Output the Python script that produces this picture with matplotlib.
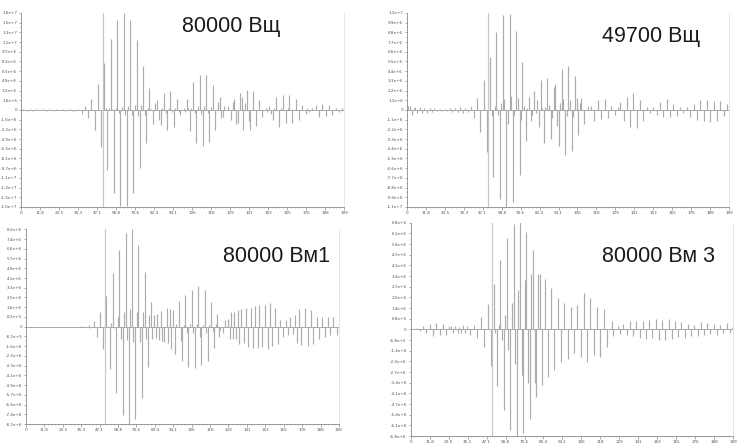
import numpy as np
import matplotlib
matplotlib.use("Agg")
import matplotlib.pyplot as plt
from matplotlib.ticker import FixedLocator, AutoMinorLocator

# stem positions (x) and amplitudes (in units of 1e6)
p1_x = [1.5, 3.5, 5.5, 7.5, 9.5, 11.5, 13.5, 15.5, 17.5, 19.5, 21.5, 23.5, 25.5, 27.5, 29.5, 31.5,
        33.5, 35.5, 37.5, 39.5, 41.5, 43.5, 45.5, 47.5, 49.5, 51.5, 52.5, 53.5, 54.5, 55.5, 56.5,
        57.5, 58.5, 59.5, 60.5, 61.5, 62.5, 63.5, 64.5, 65.5, 66.5, 67.5, 68.5, 69.5, 70.5, 71.5,
        72.5, 73.5, 74.5, 75.5, 76.5, 77.5, 78.5, 79.5, 80.5, 81.5, 83.0, 84.4, 85.6, 86.4, 87.5,
        88.5, 89.5, 90.4, 91.5, 92.4, 93.5, 94.5, 95.5, 96.6, 97.5, 98.6, 100.7, 101.6, 102.8,
        103.5, 104.4, 105.5, 106.5, 107.5, 108.6, 109.5, 110.6, 111.5, 112.5, 113.5, 114.6, 115.5,
        116.4, 117.5, 118.7, 120.3, 121.8, 123.0, 123.9, 125.1, 125.9, 128.0, 130.1, 131.3, 132.1,
        133.4, 134.6, 135.7, 136.7, 137.7, 138.8, 140.0, 141.0, 141.6, 143.7, 145.6, 147.6, 149.5,
        151.4, 152.4, 153.4, 154.5, 155.7, 156.8, 158.0, 159.9, 161.0, 161.9, 164.0, 165.0, 166.0,
        167.9, 170.0, 172.0, 174.1, 176.2, 177.2, 178.3, 180.3, 182.4, 184.4, 186.5, 188.6, 190.6,
        192.7, 194.8, 196.8, 198.9]
p1_v = [0.1, -0.1, 0.08, -0.1, 0.1, -0.08, 0.1, -0.1, 0.08, -0.1, 0.1, -0.08, 0.1, -0.1, 0.08, -0.1,
        -0.1, 0.2, -0.6, 0.7, -1.4, 1.9, -3.3, 4.4, -6.2, 7.9, 0.3, -10.0, 0.3, 11.8, 0.2,
        -13.8, 0.4, 15.0, -0.5, -16.0, 0.5, 16.2, -0.8, -16.1, 0.6, 15.0, -0.8, -13.8, 0.8, 11.7,
        -1.0, -9.7, 0.8, 7.4, -0.8, -5.6, 0.3, 3.6, 0.2, -2.3, 1.2, 1.6, -1.6, -2.5, 0.4,
        2.8, -0.5, -3.3, 0.4, 3.1, -0.4, -2.8, 0.3, 1.8, -0.3, -0.8, 0.3, -0.3, 1.9,
        0.3, -3.6, 0.4, 4.6, -0.5, -5.6, 0.6, 5.8, -0.6, -6.1, 0.6, 5.8, -0.5,
        -5.3, 0.5, 4.2, -3.3, 1.4, 2.2, -1.4, -1.1, 0.7, 0.7, -1.6, 1.4, 1.8,
        -2.3, -2.1, 2.8, 2.1, -3.4, 1.1, 3.3, -1.9, -3.4, 3.1, -2.7, 1.7, -1.1,
        0.4, -0.3, 0.7, -0.6, -1.6, 0.3, 2.1, -2.8, 0.4, 2.5, -2.2, 0.3, 2.5,
        -2.2, 1.8, -1.6, 0.8, -0.6, 0.3, -0.3, 0.3, 0.8, -1.1, 1.0, -1.0, 0.8,
        -0.8, 0.4, -0.4, 0.3]

p2_x = [0.8, 2.0, 3.0, 4.2, 5.2, 6.2, 7.8, 9.3, 10.8, 12.4, 14.0, 15.5, 17.0, 18.6, 20.2, 21.8,
        23.4, 25.0, 26.6, 28.2, 29.8, 31.4, 33.0, 34.6, 36.2, 37.8, 39.5, 41.5, 43.6, 45.5, 47.6,
        49.5, 51.5, 52.5, 53.4, 54.5, 55.5, 56.5, 57.8, 58.6, 59.6, 60.5, 61.5, 62.6, 63.8, 64.7,
        65.7, 66.6, 67.7, 68.7, 69.9, 70.8, 71.7, 72.8, 73.8, 74.8, 75.9, 76.9, 77.9, 79.0, 79.9,
        80.8, 81.9, 83.0, 84.0, 85.0, 86.0, 87.1, 88.1, 89.2, 90.1, 91.1, 92.1, 93.1, 94.2, 95.1,
        96.1, 97.2, 98.3, 99.2, 100.2, 101.2, 102.3, 103.2, 104.2, 105.4, 106.4, 107.2, 108.1,
        110.2, 112.3, 114.3, 116.4, 118.5, 120.6, 122.7, 124.7, 126.8, 128.9, 131.0, 132.6, 134.7,
        136.8, 138.5, 140.5, 142.6, 144.7, 146.8, 148.9, 150.9, 153.0, 155.1, 157.2, 159.3, 161.3,
        163.4, 165.5, 167.6, 169.6, 171.7, 173.8, 175.9, 178.0, 180.0, 182.1, 184.2, 186.3, 188.4,
        190.4, 192.5, 194.6, 196.7, 198.8]
p2_v = [0.4, 0.4, -0.6, 0.2, 0.3, -0.3, 0.35, -0.3, 0.25, -0.3, 0.2, -0.2, 0.2, -0.15, 0.15, -0.15,
        0.15, -0.15, 0.2, -0.2, 0.25, -0.25, 0.3, -0.3, 0.2, -0.2, 0.45, -0.95, 1.4, -2.45, 3.4,
        -4.8, 6.0, -0.7, -7.6, 0.4, 8.8, -0.6, -10.1, 0.75, 10.75, 1.2, -11.1, -1.6, 10.9, 1.6,
        -10.4, -0.6, 8.9, 1.3, -7.4, -1.1, 5.4, 0.4, -3.5, 0.2, 1.5, -1.3, -0.6, 2.1, -0.4,
        1.1, -1.9, 3.4, 0.2, -3.8, 0.3, 3.6, 0.6, -3.3, -0.9, 2.6, 2.9, -1.8, -4.1, 0.75,
        4.6, 1.2, -5.1, -0.7, 5.0, 1.1, -4.6, -0.8, 3.85, 1.3, -2.8, 0.8, 1.3,
        -1.6, 0.45, 0.45, -1.2, 1.1, -1.05, 1.2, -0.95, 0.45, -0.55, 0.3, 0.95, -1.2,
        1.5, -1.9, 1.9, -2.0, 1.1, -1.2, 0.3, -0.3, 0.3, -0.55, 0.95, -0.75, 1.2,
        -0.85, 0.7, -0.7, 0.3, -0.3, 0.3, -0.75, 0.7, -1.1, 1.1, -1.2, 1.1, -1.4,
        1.05, -1.2, 1.05, -0.7, 0.7]

p3_x = [35.0, 38.0, 40.0, 41.2, 43.2, 45.4, 47.1, 49.2, 51.4, 53.5, 54.5, 55.4, 56.5, 57.6, 58.6,
        59.5, 60.6, 61.7, 62.7, 63.6, 64.6, 65.7, 66.7, 67.6, 68.7, 69.8, 70.8, 71.7, 72.8, 73.9,
        74.9, 75.8, 76.9, 77.9, 78.8, 79.8, 80.8, 81.8, 82.8, 83.9, 85.0, 86.1, 87.1, 88.2, 89.9,
        91.0, 92.0, 92.9, 94.0, 95.0, 96.1, 97.8, 98.9, 99.7, 100.8, 101.9, 103.0, 103.8, 104.9,
        106.0, 107.0, 108.1, 109.0, 110.0, 111.1, 112.0, 113.0, 114.1, 115.2, 116.0, 117.1, 118.2,
        119.3, 120.1, 121.2, 122.2, 123.3, 124.0, 125.7, 127.4, 128.9, 130.2, 131.0, 132.3, 133.2,
        134.5, 135.3, 136.4, 137.5, 139.0, 140.3, 141.8, 143.5, 145.0, 146.5, 148.2, 149.2, 150.7,
        152.5, 154.6, 155.7, 157.2, 159.3, 161.0, 162.1, 164.2, 166.4, 167.5, 168.7, 170.7, 171.7,
        173.2, 174.5, 176.0, 178.2, 180.3, 182.0, 183.5, 185.7, 187.1, 189.3, 191.0, 192.7, 194.2,
        196.4, 198.5]
p3_v = [0.05, -0.05, 0.1, -0.15, 0.5, -0.85, 1.25, -1.9, 2.6, -3.6, 0.3, 4.5, -0.1, -5.6, 0.8,
        6.5, -1.0, -7.4, 1.2, 7.9, -1.1, -8.2, 1.5, 8.2, -1.3, -7.8, 1.2, 6.9, -1.3, -6.0,
        1.2, 4.6, -1.0, -3.4, 1.0, 2.05, -1.0, 1.0, -0.95, 1.1, -1.1, 1.3, -1.2, -1.3, 1.6,
        -1.35, 1.5, -1.9, 1.4, -2.3, 0.2, 2.2, -1.2, -2.9, 0.15, 2.7, -0.55, -3.4, 0.2,
        3.1, -0.55, -3.5, 0.2, 3.45, -0.85, -3.2, 0.1, 3.1, -0.5, -2.9, 0.1, 2.05,
        -0.4, -1.8, 0.2, 1.1, -0.9, -0.3, -0.5, 0.6, 0.65, -1.0, 1.25, -1.05, 1.25,
        -1.0, 1.4, -1.45, 1.45, -1.4, 1.6, -1.7, 1.6, -1.8, 1.75, -1.8, 1.8, -1.7,
        1.8, -1.9, 2.0, -1.6, 1.6, -1.45, 0.6, -0.85, 0.55, -0.7, 0.85, -0.6, 1.0,
        -1.35, 1.45, -1.55, 1.6, -1.6, 1.4, -1.45, 0.85, -1.0, 0.85, -0.9, 0.85, -0.7,
        0.85, -0.7]

p4_x = [1.6, 3.7, 5.7, 7.7, 9.8, 11.8, 13.8, 15.9, 17.9, 19.9, 22.0, 24.0, 25.0, 26.4, 27.7,
        29.1, 30.1, 31.1, 32.6, 33.8, 35.2, 36.6, 39.3, 41.3, 43.7, 45.6, 47.8, 49.6, 51.5, 52.5,
        53.7, 54.5, 55.5, 56.6, 57.6, 58.6, 59.6, 60.6, 61.6, 62.7, 63.9, 64.7, 65.7, 66.7, 68.0,
        68.8, 69.8, 70.8, 71.8, 72.8, 73.9, 74.9, 75.9, 76.9, 77.9, 78.9, 80.0, 81.4, 83.0, 85.0,
        87.1, 89.1, 91.1, 93.2, 95.2, 97.3, 99.3, 101.3, 103.4, 105.4, 107.4, 109.5, 111.5, 113.5,
        115.6, 117.6, 119.6, 121.7, 124.7, 125.7, 128.8, 129.8, 131.8, 133.9, 135.9, 137.9, 139.9,
        141.9, 143.9, 145.9, 147.9, 149.9, 151.9, 153.9, 155.9, 157.9, 159.9, 161.9, 163.9, 165.9,
        167.9, 169.9, 171.9, 173.9, 175.9, 177.9, 179.9, 181.9, 183.9, 185.9, 187.9, 189.9, 191.9,
        193.9, 195.9, 197.9, 199.5]
p4_v = [0.05, 0.08, -0.1, 0.2, -0.25, 0.35, -0.45, 0.4, -0.35, 0.35, -0.35, 0.2, 0.2, -0.2, 0.2,
        -0.25, 0.15, -0.2, 0.25, -0.25, 0.2, -0.35, 0.3, -0.55, 0.77, -1.15, 1.6, -2.3, 2.9, -0.2,
        -3.6, 0.3, 4.4, -0.7, -5.1, 0.9, 5.8, -1.3, -6.4, 1.7, 6.7, -2.2, -6.9, 2.5, 6.9,
        -2.9, -6.6, 3.1, 6.2, -3.4, -5.7, 3.5, 5.0, -3.4, -4.3, 3.5, 3.5, -3.55, 3.2, -3.0,
        2.6, -2.6, 2.0, -2.1, 1.7, -1.85, 1.4, -1.5, 1.55, -1.75, 2.3, -2.05, 2.0, -1.65,
        1.4, -1.75, 1.3, -1.1, 0.5, -0.45, 0.2, -0.3, 0.35, -0.35, 0.55, -0.45, 0.55,
        -0.55, 0.5, -0.6, 0.6, -0.55, 0.65, -0.65, 0.6, -0.7, 0.65, -0.6, 0.55, -0.5,
        0.45, -0.55, 0.35, -0.4, 0.3, -0.45, 0.45, -0.35, 0.4, -0.3, 0.35, -0.35, 0.3,
        -0.2, 0.4, -0.25, 0.15]

titles = ["80000 Вщ", "49700 Вщ", "80000 Вм1", "80000 Вм 3"]
y_steps = [1.62e6, 1.1e6, 0.82e6, 0.676e6]
x_ticklabels = ["0", "11.8", "23.5", "35.3", "47.1", "58.8", "70.6", "82.4", "94.1", "106",
                "118", "129", "141", "153", "165", "176", "188", "199"]
cursor_x = 50.5

# axes boxes in figure fractions, and title anchors (left, baseline)
boxes = [[0.0285, 0.536, 0.4377, 0.435],
         [0.5515, 0.536, 0.4363, 0.435],
         [0.0352, 0.0493, 0.4241, 0.4365],
         [0.5565, 0.0224, 0.4370, 0.4783]]
title_pos = [(0.2466, 0.929), (0.8157, 0.9065), (0.3026, 0.4132), (0.8153, 0.4132)]


def ylabel(v):
    if abs(v) < 1:
        return "0"
    return "{:.1e}".format(v).replace("e+0", "e+")


def draw_panel(fig, box, xs, vs, step, title, tpos):
    ax = fig.add_axes(box)
    ymax = step * 10
    ax.set_xlim(0, 200)
    ax.set_ylim(-ymax, ymax)
    ax.axhline(0, color="#9a9a9a", lw=0.6, zorder=1)
    ax.axvline(cursor_x, color="#c8c8c8", lw=0.9, zorder=1)
    ax.vlines(xs, 0, np.array(vs) * 1e6, colors="#acacac", lw=0.85, zorder=2)

    yt = np.arange(-10, 11) * step
    ax.yaxis.set_major_locator(FixedLocator(yt))
    ax.set_yticklabels([ylabel(v) for v in yt])
    xt = np.arange(18) * 200 / 17
    ax.xaxis.set_major_locator(FixedLocator(xt))
    ax.set_xticklabels(x_ticklabels)
    ax.xaxis.set_minor_locator(AutoMinorLocator(5))
    ax.yaxis.set_minor_locator(AutoMinorLocator(2))
    ax.tick_params(which="major", length=1.8, width=0.5, color="#888888",
                   labelsize=3.0, labelcolor="#555555", pad=1)
    ax.tick_params(which="minor", length=1.0, width=0.4, color="#999999")

    ax.spines["top"].set_visible(False)
    ax.spines["right"].set_color("#e2e2e2")
    ax.spines["right"].set_linewidth(0.6)
    for side in ["left", "bottom"]:
        ax.spines[side].set_color("#8a8a8a")
        ax.spines[side].set_linewidth(0.6)

    fig.text(tpos[0], tpos[1], title, fontsize=15.5, color="#1a1a1a",
             family=["Liberation Sans", "DejaVu Sans"], ha="left", va="baseline")
    return ax


def main():
    fig = plt.figure(figsize=(7.38, 4.46), dpi=100)
    data = [(p1_x, p1_v), (p2_x, p2_v), (p3_x, p3_v), (p4_x, p4_v)]
    for i, (xs, vs) in enumerate(data):
        draw_panel(fig, boxes[i], xs, vs, y_steps[i], titles[i], title_pos[i])
    fig.savefig("out.png", dpi=100, facecolor="white")


if __name__ == "__main__":
    main()
